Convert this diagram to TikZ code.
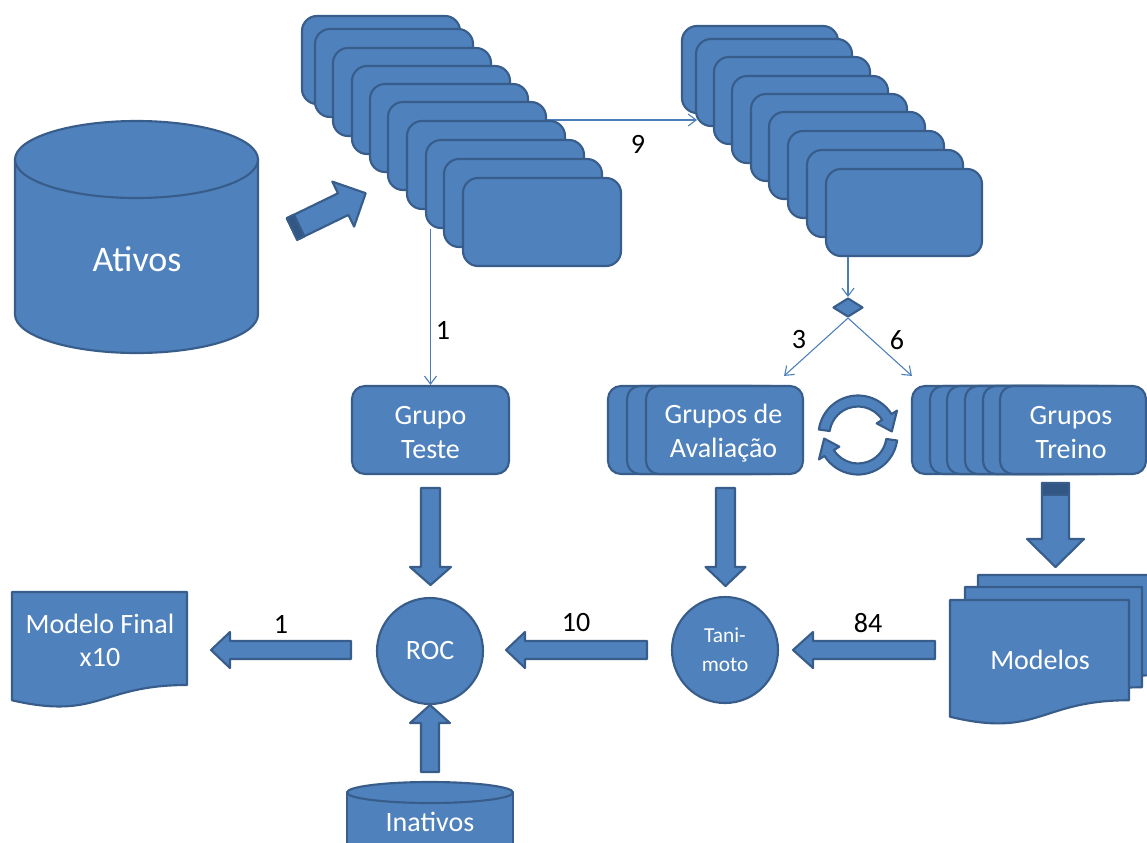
\documentclass[tikz,border=0pt]{standalone}
\usepackage{fontspec}
\setmainfont{Carlito}
\usetikzlibrary{arrows.meta,shapes.geometric,calc}
\definecolor{bfill}{HTML}{4F81BD}
\definecolor{bline}{HTML}{385D8A}
\definecolor{bdark}{HTML}{335784}
\definecolor{connc}{HTML}{4A7EBB}
\begin{document}
\begin{tikzpicture}[x=0.75pt,y=-0.75pt,
  blueshape/.style={fill=bfill,draw=bline,line width=1.6pt,line join=round},
  stackbox/.style={blueshape,rounded corners=11.25pt,minimum width=118.5pt,minimum height=66pt,inner sep=0pt},
  stackboxr/.style={blueshape,rounded corners=11.25pt,minimum width=117pt,minimum height=65.25pt,inner sep=0pt},
  gbox/.style={blueshape,rounded corners=9.75pt,minimum width=117.75pt,minimum height=66pt,inner sep=0pt},
  tbox/.style={gbox,minimum width=109.5pt},
  rnd/.style={blueshape,circle,minimum size=79.5pt,inner sep=0pt,text=white,align=center},
  lbl/.style={text=black,font=\fontsize{21}{25}\selectfont,inner sep=0pt},
  wtxt/.style={text=white,align=center,inner sep=0pt,font=\fontsize{21}{25.5}\selectfont},
  conn/.style={draw=connc,line width=0.8pt,-{Straight Barb[length=6pt,width=9pt,line width=0.8pt]}},
  dkpart/.style={fill=bdark,draw=bline,line width=1.6pt,line join=round}
]
\useasboundingbox (0,0) rectangle (1147,843);
\clip (0,0) rectangle (1147,843);

% Ativos cylinder
\path[blueshape] (15,159.5) -- (15,314.5) arc[start angle=180,end angle=0,x radius=121.5,y radius=38.5] -- (258,159.5) -- cycle;
\path[blueshape] (136.5,159.5) ellipse[x radius=121.5,y radius=38.5];
\node[wtxt,font=\fontsize{27}{30}\selectfont] (ATV) at (137,259) {Ativos};

% slanted block arrow
\path[blueshape] (286.8,218.2)--(338.0,193.3)--(332.3,181.6)--(365.7,193.2)--(354.1,226.6)--(348.4,214.9)--(297.2,239.8)--cycle;
\path[dkpart] (286.8,218.2)--(294.0,214.7)--(304.4,236.3)--(297.2,239.8)--cycle;

% left stack
\node[stackbox] (L1) at (381,60) {};
\node[stackbox] (L2) at (394,73) {};
\node[stackbox] (L3) at (412,92) {};
\node[stackbox] (L4) at (431,110) {};
\node[stackbox] (L5) at (449,128) {};
\node[stackbox] (L6) at (467,146) {};
\draw[conn] ([yshift=19.5pt]L6.east) coordinate (c9) -- (697,120) coordinate (c9b);
\node[stackbox] (L7) at (486,165) {};
\node[stackbox] (L8) at (505,184) {};
\node[stackbox] (L9) at (523,203) {};
\node[stackbox] (L10) at (542,222) {};
\node[lbl] (n9) at (638,144) {9};

% right stack
\node[stackboxr] (R1) at (760,69.5) {};
\node[stackboxr] (R2) at (774,82.5) {};
\node[stackboxr] (R3) at (792,100.5) {};
\node[stackboxr] (R4) at (810,119.5) {};
\node[stackboxr] (R5) at (829,137.5) {};
\node[stackboxr] (R6) at (847,155.5) {};
\node[stackboxr] (R7) at (866,174.5) {};
\node[stackboxr] (R8) at (885,193.5) {};
\node[stackboxr] (R9) at (904,212.5) {};

% diamond
\node[blueshape,diamond,minimum width=22.5pt,minimum height=14.25pt,inner sep=0pt] (D) at (848,307.5) {};
\draw[conn] (R9.south -| D.north) -- (D.north);

% Grupo Teste
\node[gbox] (GT) at (430.5,430) {};
\node[wtxt] (GTt) at (430.5,433) {Grupo\\Teste};
\draw[conn] (L8.south -| GT.north) -- (GT.north);
\node[lbl] (n1a) at (443,330) {1};

% Avaliacao stack
\node[gbox] (AV1) at (686.5,430) {};
\node[gbox] (AV2) at (705.5,430) {};
\node[gbox] (AV3) at (724.5,430) {};
\node[wtxt] (AVt) at (723.5,433) {Grupos de\\Avaliação};

% Treino stack
\node[tbox] (T1) at (985,430) {};
\node[tbox] (T2) at (1003,430) {};
\node[tbox] (T3) at (1020,430) {};
\node[tbox] (T4) at (1038,430) {};
\node[tbox] (T5) at (1056,430) {};
\node[tbox] (T6) at (1073,430) {};
\node[wtxt] (Tt) at (1071,433) {Grupos\\Treino};

\draw[conn] (D.south) -- ($(AV3.north east)+(-20,-9)$);
\draw[conn] (D.south) -- ($(T1.north west)+(1,-9)$);
\node[lbl] (n3) at (799,340) {3};
\node[lbl] (n6) at (897,340) {6};

% cycle arrows
\begin{scope}[shift={(858,435)},yscale=-1]
\path[blueshape] (172:39.5) arc[start angle=172,end angle=32,radius=39.5] -- (32:46) -- (6:34) -- (32:22) -- (32:28.5) arc[start angle=32,end angle=172,radius=28.5] -- cycle;
\path[blueshape] (352:39.5) arc[start angle=352,end angle=212,radius=39.5] -- (212:46) -- (186:34) -- (212:22) -- (212:28.5) arc[start angle=212,end angle=352,radius=28.5] -- cycle;
\end{scope}

% down block arrows
\path[blueshape] (421,488)--(440,488)--(440,567)--(451,567)--(430.5,585)--(410,567)--(421,567)--cycle;
\path[blueshape] (716,488)--(735,488)--(735,567)--(745.5,567)--(725.5,586)--(705.5,567)--(716,567)--cycle;
\path[blueshape] (1042,483)--(1069,483)--(1069,539)--(1084,539)--(1055.5,567)--(1027,539)--(1042,539)--cycle;
\path[dkpart] (1042,483) rectangle (1069,495);

% circles
\node[rnd,font=\fontsize{21}{25}\selectfont] (ROC) at (430,651) {ROC};
\node[rnd,font=\fontsize{16}{21.5}\selectfont] (TAN) at (725,650) {Tani-\\moto};

% horizontal block arrows
\path[blueshape] (351,641)--(230,641)--(230,632)--(211,650)--(230,668)--(230,659)--(351,659)--cycle;
\path[blueshape] (647,641)--(525,641)--(525,632)--(506,650)--(525,668)--(525,659)--(647,659)--cycle;
\path[blueshape] (935,641)--(813,641)--(813,632)--(793,650)--(813,668)--(813,659)--(935,659)--cycle;
\node[lbl] (n1b) at (281,624) {1};
\node[lbl] (n10) at (576,623) {10};
\node[lbl] (n84) at (868,623) {84};

% up arrow from Inativos
\path[blueshape] (421,772)--(439,772)--(439,723)--(450,723)--(430,705)--(410,723)--(421,723)--cycle;

% Inativos cylinder
\path[blueshape] (347,792.5) -- (347,880) -- (513,880) -- (513,792.5) -- cycle;
\path[blueshape] (430,792.5) ellipse[x radius=83,y radius=10.5];
\node[wtxt] (INA) at (430,822) {Inativos};

% Modelo Final document
\path[blueshape] (12,592) -- (187,592) -- (187,685) .. controls (99.5,685) and (99.5,720.4) .. (12,700.3) -- cycle;
\node[wtxt,font=\fontsize{21}{24.75}\selectfont] (MF) at (100,640) {Modelo Final\\x10};

% Modelos multi-document
\path[blueshape] (978,575) -- (1155,575) -- (1155,675.25) .. controls (1066.5,675.25) and (1066.5,713.4) .. (978,691.75) -- cycle;
\path[blueshape] (965,587) -- (1142,587) -- (1142,687.25) .. controls (1053.5,687.25) and (1053.5,725.4) .. (965,703.75) -- cycle;
\path[blueshape] (950,600) -- (1129,600) -- (1129,700.25) .. controls (1039.5,700.25) and (1039.5,738.4) .. (950,716.75) -- cycle;
\node[wtxt] (MOD) at (1040,660) {Modelos};
\end{tikzpicture}
\end{document}
